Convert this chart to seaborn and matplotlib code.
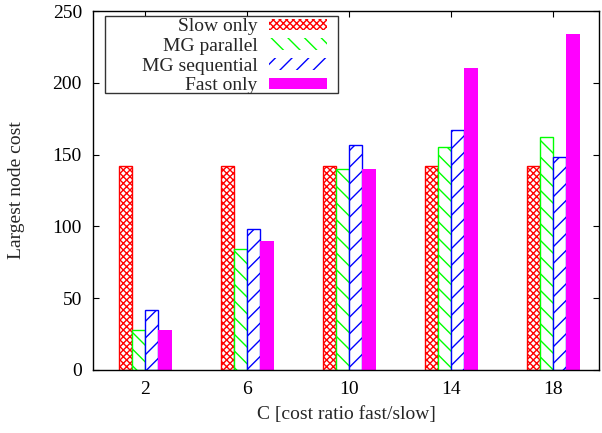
import pandas as pd
import matplotlib
matplotlib.use("Agg")
import matplotlib.pyplot as plt
from matplotlib.patches import Rectangle
import seaborn as sns

# ~~~~~~~~~~~~~~~~~~  DATA  ~~~~~~~~~~~~~~~~~~
c_values = ["2", "6", "10", "14", "18"]
slow_only = [142, 142, 142, 142, 142]
mg_parallel = [28, 84, 140, 155, 162]
mg_sequential = [42, 98, 157, 167, 148]
fast_only = [28, 90, 140, 210, 234]

series_names = ["Slow only", "MG parallel", "MG sequential", "Fast only"]
series_values = [slow_only, mg_parallel, mg_sequential, fast_only]

rows = []
for name, vals in zip(series_names, series_values):
    for c, v in zip(c_values, vals):
        rows.append({"C": c, "cost": v, "method": name})
df = pd.DataFrame(rows)

# ~~~~~~~~~~~~~~~~~~  STYLE  ~~~~~~~~~~~~~~~~~~
sns.set_style("ticks")
plt.rcParams["font.family"] = ["Liberation Serif", "DejaVu Serif"]
plt.rcParams["hatch.linewidth"] = 1.0

colors = ["#ff0000", "#00ff00", "#0000ff", "#ff00ff"]
hatches = ["xxxxx", "\\\\", "//", None]
fs = 14

fig = plt.figure(figsize=(6.02, 4.33), dpi=100)
ax = fig.add_axes([93 / 602, 63 / 433, 506 / 602, 359 / 433])

sns.barplot(data=df, x="C", y="cost", hue="method", order=c_values,
            hue_order=series_names, palette=colors, width=0.52,
            legend=False, ax=ax)

for cont, col, h in zip(ax.containers, colors, hatches):
    for p in cont:
        if h is None:
            p.set_facecolor(col)
            p.set_edgecolor(col)
            p.set_linewidth(0)
        else:
            p.set_facecolor("white")
            p.set_edgecolor(col)
            p.set_hatch(h)
            p.set_linewidth(1.0)

ax.set_xlim(-0.51, 4.45)
ax.set_ylim(0, 250)
ax.set_yticks([0, 50, 100, 150, 200, 250])
ax.tick_params(direction="in", top=True, right=True, length=4, width=0.8,
               labelsize=fs, colors="black", pad=8)
for s in ax.spines.values():
    s.set_color("black")
    s.set_linewidth(1.0)

ax.set_xlabel("C [cost ratio fast/slow]", fontsize=fs, labelpad=6)
ax.set_ylabel("Largest node cost", fontsize=fs, labelpad=20)

# legend box (gnuplot-like: wide frame, right aligned text)
frame = Rectangle((12 / 506, (370 - 93) / 359), 233 / 506, 77 / 359,
                  transform=ax.transAxes, facecolor="white",
                  edgecolor="#333333", linewidth=1.0, zorder=4)
ax.add_patch(frame)

leg = ax.legend(ax.containers, series_names, loc="upper right",
                bbox_to_anchor=((329 - 93) / 506, (370 - 16) / 359),
                borderaxespad=0, markerfirst=False, frameon=False,
                fontsize=fs, handlelength=2.95, handleheight=0.55,
                labelspacing=0.14, borderpad=0.12, handletextpad=0.6)
leg.set_zorder(5)
for hnd in leg.legend_handles:
    hnd.set_linewidth(0)

plt.savefig("out.png", dpi=100)
